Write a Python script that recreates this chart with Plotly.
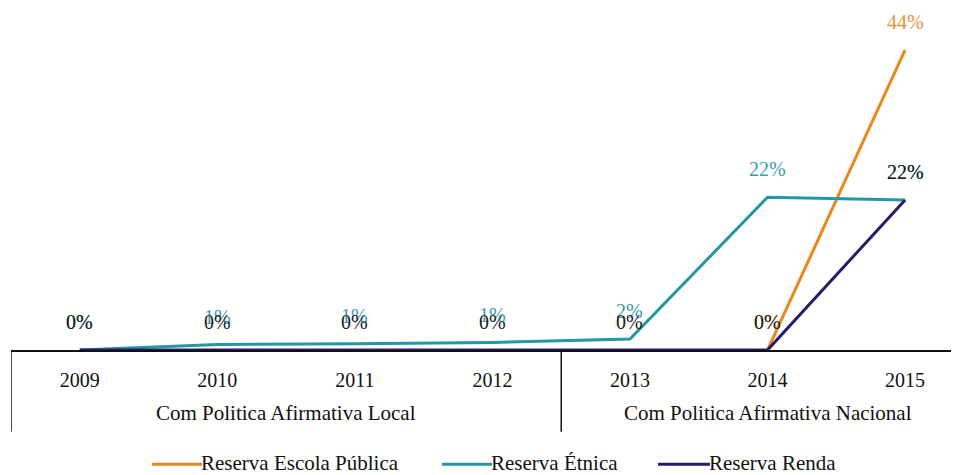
import plotly.graph_objects as go

years = ['2009', '2010', '2011', '2012', '2013', '2014', '2015']
groups = ['Com Politica Afirmativa Local', 'Com Politica Afirmativa Nacional']
group_spans = [(0, 3), (4, 6)]

escola_publica = [None, None, None, None, None, 0, 44]
etnica = [0, 0.8, 0.9, 1.1, 1.6, 22.4, 22.0]
renda = [0, 0, 0, 0, 0, 0, 22]

series = [
    ('Reserva Escola Pública', escola_publica, '#E8871E', '#E0973A'),
    ('Reserva Étnica', etnica, '#2596A3', '#3A9CB0'),
    ('Reserva Renda', renda, '#2B1A66', '#1a1a1a'),
]

# hand-placed legend entries (paper x of the line start, line end)
legend_pos = [(0.1475, 0.1998), (0.4508, 0.5031), (0.6768, 0.7312)]

serif = 'Liberation Serif'

fig = go.Figure()
annotations = []
shapes = []
for (name, vals, color, lblcolor), (lx0, lx1) in zip(series, legend_pos):
    fig.add_trace(go.Scatter(
        x=list(range(len(years))),
        y=vals,
        name=name,
        mode='lines',
        line=dict(color=color, width=3),
        connectgaps=False,
    ))
    for i, v in enumerate(vals):
        if v is None:
            continue
        annotations.append(dict(
            x=i, y=v, xref='x', yref='y',
            text=f'{round(v):.0f}%',
            showarrow=False, yshift=28,
            font=dict(family=serif, size=20, color=lblcolor),
        ))
    # legend entry
    shapes.append(dict(
        type='line', xref='paper', yref='paper',
        x0=lx0, x1=lx1, y0=-0.335, y1=-0.335,
        line=dict(color=color, width=3),
    ))
    annotations.append(dict(
        x=lx1, y=-0.33, xref='paper', yref='paper',
        text=name, showarrow=False, xanchor='left', yanchor='middle',
        xshift=-3,
        font=dict(family=serif, size=21, color='#111'),
    ))

# group labels under the year ticks
for g, (a, b) in zip(groups, group_spans):
    annotations.append(dict(
        x=(a + b) / 2, y=-0.185, xref='x', yref='paper',
        text=g, showarrow=False, yanchor='middle',
        font=dict(family=serif, size=21, color='#111'),
    ))

# divider lines at the group boundaries
for a, b in group_spans:
    shapes.append(dict(
        type='line', xref='x', yref='paper',
        x0=a - 0.5, x1=a - 0.5, y0=0, y1=-0.24,
        line=dict(color='#111', width=1.5),
    ))

fig.update_layout(
    width=959, height=475,
    margin=dict(l=3, r=0, t=1, b=133),
    plot_bgcolor='white', paper_bgcolor='white',
    annotations=annotations,
    shapes=shapes,
    showlegend=False,
    font=dict(family=serif, size=20, color='#111'),
)

fig.update_xaxes(
    range=[-0.5, 6.45],
    tickvals=list(range(len(years))), ticktext=years,
    showline=True, linecolor='#111', linewidth=2,
    showgrid=False, zeroline=False,
    ticks='', ticklabelstandoff=11,
    tickfont=dict(family=serif, size=20, color='#111'),
)
fig.update_yaxes(
    range=[0, 50],
    visible=False, showgrid=False, zeroline=False,
)

fig.write_html('out.html')
